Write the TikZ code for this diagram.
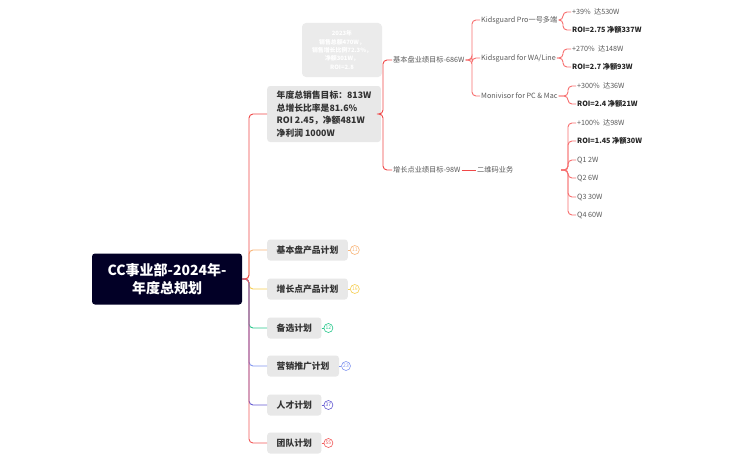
\documentclass[tikz,border=0pt]{standalone}
\usepackage{fontspec}
\setmainfont{Noto Sans CJK SC}
\usepackage{xcolor}
\usetikzlibrary{positioning}

\definecolor{rootbg}{RGB}{2,0,38}
\definecolor{boxbg}{RGB}{232,232,232}
\definecolor{cred}{RGB}{240,72,72}
\definecolor{clight}{RGB}{247,112,112}
\definecolor{corange}{RGB}{248,181,120}
\definecolor{cyellow}{RGB}{246,206,80}
\definecolor{cgreen}{RGB}{40,200,140}
\definecolor{cblue}{RGB}{130,150,240}
\definecolor{cpurple}{RGB}{100,90,210}
\definecolor{cteam}{RGB}{242,90,90}
\definecolor{txtgray}{RGB}{90,90,90}

\tikzset{
  rootbox/.style={fill=rootbg, text=white, rounded corners=3, align=center,
    font=\bfseries\fontsize{14}{18}\selectfont, minimum width=150, minimum height=51, inner sep=0},
  planbox/.style={fill=boxbg, text=black!80, rounded corners=3, anchor=west,
    font=\bfseries\fontsize{8.8}{12.5}\selectfont, minimum height=21, inner xsep=9.5},
  leaf/.style={anchor=west, inner sep=1, text=txtgray, font=\fontsize{7.2}{9}\selectfont},
  leafbold/.style={leaf, text=black!85, font=\bfseries\fontsize{7.2}{9}\selectfont},
  badge/.style={circle, draw=#1, text=#1, line width=0.6, minimum size=9, inner sep=0,
    font=\fontsize{5}{5}\selectfont},
  link/.style={line width=0.9, rounded corners=4},
}

\begin{document}
\begin{tikzpicture}[x=1pt,y=-1pt]
  \useasboundingbox[fill=white] (0,0) rectangle (743,460);

  % root and first level
  \node[rootbox] (root) at (167,279) {CC事业部-2024年-\\年度总规划};
  \coordinate (rj) at (249,279);

  \node[planbox, align=left, minimum width=111, minimum height=56] (goal) at (267,114)
    {年度总销售目标：813W\\总增长比率是81.6\%\\ROI 2.45，净额481W\\净利润 1000W};
  \node[planbox] (base) at (267,250) {基本盘产品计划};
  \node[planbox] (grow) at (267,289) {增长点产品计划};
  \node[planbox] (alt) at (267,328) {备选计划};
  \node[planbox] (mkt) at (267,366) {营销推广计划};
  \node[planbox] (talent) at (267,405) {人才计划};
  \node[planbox] (team) at (267,443) {团队计划};

  \foreach \n/\c in {base/corange, grow/cyellow, alt/cgreen, mkt/cblue, talent/cpurple, goal/cred, team/cteam}
    \draw[link, \c] (root.east) -- (rj) |- (\n.west);

  % badges
  \foreach \n/\c/\k in {base/corange/11, grow/cyellow/16, alt/cgreen/12, mkt/cblue/23, talent/cpurple/37, team/cteam/55} {
    \node[badge=\c, right=2 of \n] (b\n) {\k};
    \draw[\c, line width=0.8] (\n.east) -- (b\n.west);
  }

  % 2023 note
  \node[fill=boxbg!85, text=white, rounded corners=4, minimum width=80, minimum height=54,
    align=center, font=\bfseries\fontsize{5.9}{8.4}\selectfont] (note) at (342,50)
    {2023年\\销售总额470W，\\销售增长比例72.3\%，\\净额301W，\\ROI=2.8};

  % second level
  \coordinate (gj) at (383,114);
  \node[leaf] (baseGoal) at (392,60) {基本盘业绩目标-686W};
  \node[leaf] (growGoal) at (392,170) {增长点业绩目标-98W};
  \draw[link, cred] (goal.east) -- (gj) |- (baseGoal.west);
  \draw[link, cred] (goal.east) -- (gj) |- (growGoal.west);

  % products
  \coordinate (bj) at (472,60);
  \node[leaf] (kg) at (480,20) {Kidsguard Pro一号多端};
  \node[leaf] (wa) at (480,58) {Kidsguard for WA/Line};
  \node[leaf] (mv) at (480,96) {Monivisor for PC \& Mac};
  \foreach \n in {kg, wa, mv}
    \draw[link, clight] (baseGoal.east) -- (bj) |- (\n.west);

  \coordinate (kgj) at (563,20);
  \node[leaf] (kgUp) at (571,12) {+39\%~~达530W};
  \node[leafbold] (kgRoi) at (571,30) {ROI=2.75 净额337W};
  \coordinate (waj) at (563,58);
  \node[leaf] (waUp) at (571,49) {+270\%~~达148W};
  \node[leafbold] (waRoi) at (571,67) {ROI=2.7 净额93W};
  \coordinate (mvj) at (568,96);
  \node[leaf] (mvUp) at (576,86) {+300\%~~达36W};
  \node[leafbold] (mvRoi) at (576,104) {ROI=2.4 净额21W};
  \foreach \p/\a/\b in {kg/kgUp/kgRoi, wa/waUp/waRoi, mv/mvUp/mvRoi} {
    \draw[link, clight] (\p.east) -- (\p j) |- (\a.west);
    \draw[link, clight] (\p.east) -- (\p j) |- (\b.west);
  }

  % growth business
  \node[leaf] (qr) at (476,170) {二维码业务};
  \draw[cred, line width=0.9] (growGoal.east) -- (qr.west);
  \coordinate (qrOut) at (561,170);
  \coordinate (qrj) at (568,170);
  \node[leaf] (qrUp) at (576,123) {+100\%~~达98W};
  \node[leafbold] (qrRoi) at (576,141) {ROI=1.45 净额30W};
  \node[leaf] (q1) at (576,160) {Q1 2W};
  \node[leaf] (q2) at (576,178) {Q2 6W};
  \node[leaf] (q3) at (576,197) {Q3 30W};
  \node[leaf] (q4) at (576,215) {Q4 60W};
  \foreach \n in {qrUp, qrRoi, q1, q2, q3, q4}
    \draw[link, clight] (qrOut) -- (qrj) |- (\n.west);
\end{tikzpicture}
\end{document}
